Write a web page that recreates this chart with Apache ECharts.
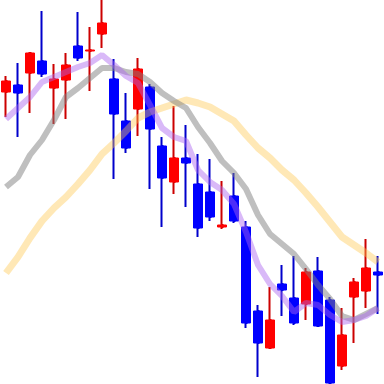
<!DOCTYPE html>
<html>
<head>
<meta charset="utf-8">
<script src="https://cdn.jsdelivr.net/npm/echarts@6/dist/echarts.min.js"></script>
<style>
html,body{margin:0;padding:0;background:#fff;}
#chart{width:384px;height:384px;}
</style>
</head>
<body>
<div id="chart"></div>
<script>
const categories = ['1','2','3','4','5','6','7','8','9','10','11','12','13','14','15','16',
  '17','18','19','20','21','22','23','24','25','26','27','28','29','30','31','32'];
const opens  = [292,299,311,323,296,304,338,333,350,305,263,275,297,238,202,226,
  200,192,157,188,157,73,36,100,86,80,113,84,18,87,93,112];
const closes = [303,291,331,310,305,319,326,334,361,270,236,315,255,206,226,221,
  156,167,159,163,61,41,64,94,61,112,58,1,49,102,116,109];
const lows   = [267,247,271,307,260,265,323,293,336,205,231,248,195,157,190,177,
  147,163,155,161,56,7,36,68,59,64,57,0,14,41,76,70];
const highs  = [308,321,332,373,320,331,372,357,384,325,291,326,300,247,278,259,
  230,225,203,211,163,79,97,119,128,116,127,87,76,106,145,128];
const maShort = [265,276,287,302,307,312,317,321,329,319,308,301,279,256,247,243,
  214,202,194,180,152,119,100,88,72,81,79,69,62,64,68,76];
const maMid   = [197,207,229,244,264,287,296,306,316,316,312,310,302,291,283,276,
  257,241,223,211,195,169,150,140,130,115,99,85,68,64,70,76];
const maLong  = [111,127,146,163,176,187,200,214,230,241,253,266,272,276,280,284,
  281,277,270,263,249,236,226,214,204,191,177,162,147,139,131,122];

const wickData = categories.map((c, i) => [opens[i], closes[i], lows[i], highs[i]]);
const bodyData = categories.map((c, i) => [opens[i], closes[i],
  Math.min(opens[i], closes[i]), Math.max(opens[i], closes[i])]);

const chart = echarts.init(document.getElementById('chart'), null, {renderer: 'canvas'});
chart.setOption({
  animation: false,
  grid: {left: 0, right: 0, top: 0, bottom: 0},
  xAxis: {type: 'category', data: categories, boundaryGap: true, show: false},
  yAxis: {type: 'value', min: 0, max: 384, show: false},
  series: [
    {
      type: 'candlestick', name: 'wick', data: wickData, barWidth: 2,
      itemStyle: {color: '#cc0000', color0: '#0000cc', borderColor: '#cc0000', borderColor0: '#0000cc', borderWidth: 2}
    },
    {
      type: 'candlestick', name: 'body', data: bodyData, barWidth: 9,
      itemStyle: {color: '#ff0000', color0: '#0000ff', borderColor: '#ff0000', borderColor0: '#0000ff', borderWidth: 1}
    },
    {
      type: 'line', name: 'MA long', data: maLong, showSymbol: false, symbol: 'none',
      lineStyle: {color: 'rgba(255,200,80,0.42)', width: 7}
    },
    {
      type: 'line', name: 'MA mid', data: maMid, showSymbol: false, symbol: 'none',
      lineStyle: {color: 'rgba(128,128,128,0.5)', width: 6}
    },
    {
      type: 'line', name: 'MA short', data: maShort, showSymbol: false, symbol: 'none',
      lineStyle: {color: 'rgba(170,100,240,0.45)', width: 6}
    }
  ]
});
</script>
</body>
</html>
